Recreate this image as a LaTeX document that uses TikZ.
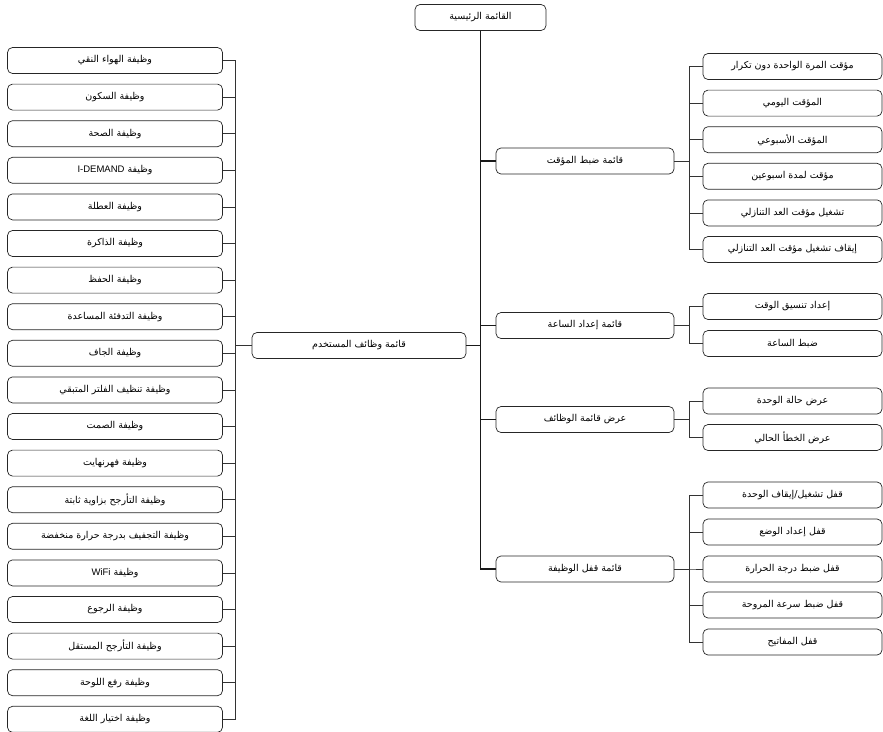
\documentclass[tikz,border=0pt]{standalone}
\usepackage{fontspec}
\TeXXeTstate=1
\newfontfamily\arabicfont[Script=Arabic]{DejaVu Sans}
\newfontfamily\latinfont{Liberation Sans}
\newcommand{\artext}[1]{{\arabicfont\beginR #1\endR}}
\newcommand{\lattext}[1]{\beginL{\latinfont #1}\endL{}}

\tikzset{
  menubox/.style={draw=black!85, line width=0.7pt, rounded corners=5pt,
    minimum height=26pt, inner sep=0pt, fill=white,
    font=\fontsize{9.5}{11}\selectfont},
  funcbox/.style={menubox, minimum width=215pt},
  submenu/.style={menubox, minimum width=178pt},
  leafbox/.style={menubox, minimum width=179pt},
  trunk/.style={line width=1.6pt, black!90},
  twig/.style={line width=0.8pt, black!80}
}

\begin{document}
\begin{tikzpicture}[x=1pt,y=-1pt]
\useasboundingbox (0,0) rectangle (883,731);

% main menu
\node[menubox, minimum width=131pt] (main) at (480.5,17.5) {\artext{القائمة الرئيسية}};

% second level
\node[menubox, minimum width=214pt] (user) at (359,345.5) {\artext{قائمة وظائف المستخدم}};
\node[submenu] (timer) at (585,161) {\artext{قائمة ضبط المؤقت}};
\node[submenu] (clock) at (585,325.5) {\artext{قائمة إعداد الساعة}};
\node[submenu] (disp) at (585,419.5) {\artext{عرض قائمة الوظائف}};
\node[submenu] (lock) at (585,569) {\artext{قائمة قفل الوظيفة}};

\draw[trunk] (main.south) |- (lock.west);
\draw[trunk] (main.south) |- (timer.west);
\draw[trunk] (main.south) |- (clock.west);
\draw[trunk] (main.south) |- (disp.west);
\draw[trunk] (main.south) |- (user.east);

% user functions
\foreach \t [count=\i] in {وظيفة الهواء النقي,وظيفة السكون,وظيفة الصحة,
    وظيفة \lattext{I-DEMAND},وظيفة العطلة,وظيفة الذاكرة,وظيفة الحفظ,
    وظيفة التدفئة المساعدة,وظيفة الجاف,وظيفة تنظيف الفلتر المتبقي,
    وظيفة الصمت,وظيفة فهرنهايت,وظيفة التأرجح بزاوية ثابتة,
    وظيفة التجفيف بدرجة حرارة منخفضة,وظيفة \lattext{WiFi},وظيفة الرجوع,
    وظيفة التأرجح المستقل,وظيفة رفع اللوحة,وظيفة اختيار اللغة}
  {
    \node[funcbox] (f\i) at (115,60.5+36.6*\i-36.6) {\artext{\t}};
    \draw[twig] (user.west) -- ++(-16,0) |- (f\i.east);
  }

% timer
\node[leafbox] (timer1) at (792.5,66.5) {\artext{مؤقت المرة الواحدة دون تكرار}};
\node[leafbox] (timer2) at (792.5,103.1) {\artext{المؤقت اليومي}};
\node[leafbox] (timer3) at (792.5,139.7) {\artext{المؤقت الأسبوعي}};
\node[leafbox] (timer4) at (792.5,176.3) {\artext{مؤقت لمدة اسبوعين}};
\node[leafbox] (timer5) at (792.5,212.9) {\artext{تشغيل مؤقت العد التنازلي}};
\node[leafbox] (timer6) at (792.5,249.5) {\artext{إيقاف تشغيل مؤقت العد التنازلي}};
\foreach \i in {1,...,6}
  \draw[twig] (timer.east) -- ++(15,0) |- (timer\i.west);

% clock
\node[leafbox] (clock1) at (792.5,306.5) {\artext{إعداد تنسيق الوقت}};
\node[leafbox] (clock2) at (792.5,343.5) {\artext{ضبط الساعة}};
\foreach \i in {1,2}
  \draw[twig] (clock.east) -- ++(15,0) |- (clock\i.west);

% display
\node[leafbox] (disp1) at (792.5,401) {\artext{عرض حالة الوحدة}};
\node[leafbox] (disp2) at (792.5,437.5) {\artext{عرض الخطأ الحالي}};
\foreach \i in {1,2}
  \draw[twig] (disp.east) -- ++(15,0) |- (disp\i.west);

% lock
\node[leafbox] (lock1) at (792.5,495) {\artext{قفل تشغيل/إيقاف الوحدة}};
\node[leafbox] (lock2) at (792.5,532) {\artext{قفل إعداد الوضع}};
\node[leafbox] (lock3) at (792.5,569) {\artext{قفل ضبط درجة الحرارة}};
\node[leafbox] (lock4) at (792.5,605) {\artext{قفل ضبط سرعة المروحة}};
\node[leafbox] (lock5) at (792.5,642) {\artext{قفل المفاتيح}};
\foreach \i in {1,...,5}
  \draw[twig] (lock.east) -- ++(15,0) |- (lock\i.west);

\end{tikzpicture}
\end{document}
